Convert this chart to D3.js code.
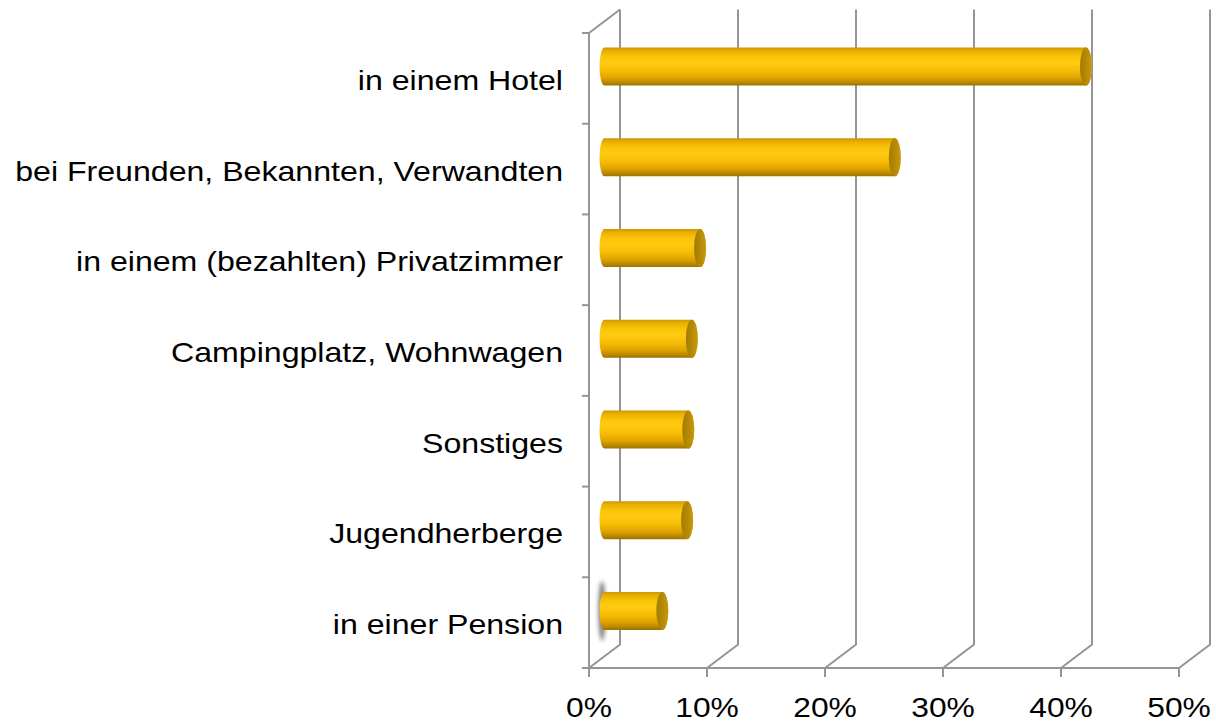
<!DOCTYPE html>
<html><head><meta charset="utf-8">
<script src="https://cdn.jsdelivr.net/npm/d3@7"></script>
<style>
html,body{margin:0;padding:0;background:#fff;}
svg{display:block;}
text{font-family:"Liberation Sans",Arial,sans-serif;fill:#000;}
</style></head>
<body>
<svg id="chart" width="1216" height="722"></svg>
<script>
const categories = ["in einem Hotel","bei Freunden, Bekannten, Verwandten","in einem (bezahlten) Privatzimmer","Campingplatz, Wohnwagen","Sonstiges","Jugendherberge","in einer Pension"];
const values = [40.8, 24.6, 8.1, 7.4, 7.1, 7.0, 4.9];
const ticks = [0,10,20,30,40,50];
const tickLabels = ["0%","10%","20%","30%","40%","50%"];

const svg = d3.select("#chart");
const x = d3.scaleLinear().domain([0,50]).range([589,1179]);
const y = d3.scaleBand().domain(categories).range([33,668]).paddingInner(0).paddingOuter(0);
const DX = 31, DY = -23.5;
const grid = "#959595";

const defs = svg.append("defs");
const g = defs.append("linearGradient").attr("id","cyl").attr("x1",0).attr("y1",0).attr("x2",0).attr("y2",1);
[[0,"#c99800"],[0.08,"#e8ad00"],[0.25,"#fcc40a"],[0.4,"#ffcb12"],[0.6,"#f7bd06"],[0.8,"#dfa300"],[0.92,"#b98800"],[1,"#9a7200"]]
  .forEach(([o,c])=>g.append("stop").attr("offset",o).attr("stop-color",c));
const cg = defs.append("linearGradient").attr("id","cap").attr("x1",0).attr("y1",0).attr("x2",1).attr("y2",0);
[[0,"#a47b00"],[0.6,"#b88c06"],[1,"#c99a10"]].forEach(([o,c])=>cg.append("stop").attr("offset",o).attr("stop-color",c));
defs.append("filter").attr("id","blur").attr("x","-300%").attr("y","-50%").attr("width","700%").attr("height","200%")
  .append("feGaussianBlur").attr("stdDeviation",2);

const gl = svg.append("g").attr("stroke",grid).attr("stroke-width",2).attr("fill","none");
ticks.forEach(t=>{
  const fx = x(t);
  gl.append("path").attr("d",`M${fx},668 L${fx+DX},${668+DY} L${fx+DX},${33+DY}`);
});
gl.append("path").attr("d",`M${x(0)},33 L${x(0)+DX},${33+DY}`);
gl.append("line").attr("x1",x(0)).attr("x2",x(0)).attr("y1",33).attr("y2",668);
gl.append("line").attr("x1",x(0)-7).attr("x2",x(50)).attr("y1",668).attr("y2",668);
categories.forEach(c=>{
  gl.append("line").attr("x1",x(0)-7).attr("x2",x(0)).attr("y1",y(c)).attr("y2",y(c));
});
ticks.forEach(t=>{
  gl.append("line").attr("x1",x(t)).attr("x2",x(t)).attr("y1",668).attr("y2",677);
});

const lastC = categories[categories.length-1];
svg.append("ellipse").attr("cx",x(0)+13).attr("cy",y(lastC)+y.bandwidth()/2+DY/2)
  .attr("rx",3.5).attr("ry",30).attr("fill","#555").attr("opacity",0.8).attr("filter","url(#blur)");

const R = 19, RX = 5, CRX = 6;
const bars = svg.append("g");
categories.forEach((c,i)=>{
  const yc = y(c)+y.bandwidth()/2 + DY/2;
  const x0 = x(0) + DX/2;
  const x1 = x(values[i]) + DX/2;
  const body = `M${x0},${yc-R} L${x1},${yc-R} A${CRX},${R} 0 0 1 ${x1},${yc+R} L${x0},${yc+R} A${RX},${R} 0 0 1 ${x0},${yc-R} Z`;
  bars.append("path").attr("d",body).attr("fill","url(#cyl)");
  bars.append("ellipse").attr("cx",x1).attr("cy",yc).attr("rx",CRX).attr("ry",R).attr("fill","url(#cap)");
});

const lab = svg.append("g");
categories.forEach(c=>{
  lab.append("text").attr("transform",`translate(563,${y(c)+y.bandwidth()/2+11.5}) scale(1.147,1)`)
    .attr("text-anchor","end").attr("font-size",28).text(c);
});
ticks.forEach((t,i)=>{
  lab.append("text").attr("transform",`translate(${x(t)},717) scale(1.135,1)`)
    .attr("text-anchor","middle").attr("font-size",28).text(tickLabels[i]);
});
</script>
</body></html>
